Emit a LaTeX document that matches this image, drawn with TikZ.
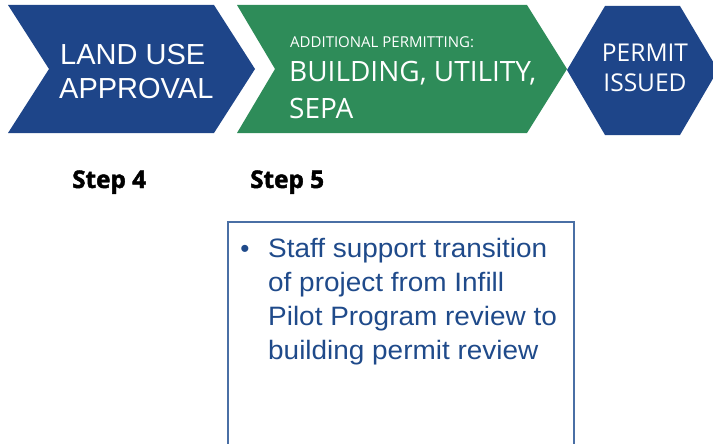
\documentclass[tikz,border=0pt]{standalone}
\usepackage{fontspec}
\setmainfont{Liberation Sans}
\newfontfamily\opensans{Open Sans}
\newfontfamily\stepfont{Open Sans}[BoldFeatures={FakeBold=1.8}]
\definecolor{chevblue}{HTML}{1E4589}
\definecolor{chevgreen}{HTML}{2E8C59}
\definecolor{boxline}{HTML}{4A6FA5}
\definecolor{boxtext}{HTML}{1F4A8A}
\begin{document}
\begin{tikzpicture}[x=1pt,y=-1pt,
  whitetxt/.style={text=white,inner sep=0pt},
  steplabel/.style={inner sep=0pt,anchor=base west,font=\stepfont\bfseries\fontsize{24.3}{28}\selectfont},
  bodytxt/.style={inner sep=0pt,anchor=base west,text=boxtext,xscale=1.05,transform shape,font=\fontsize{26.6}{30}\selectfont}]
\useasboundingbox (0,0) rectangle (713,444);
\clip (0,0) rectangle (713,444);
% shapes
\fill[chevblue] (8,5) -- (214,5) -- (255,69) -- (214,133) -- (8,133) -- (49,69) -- cycle;
\fill[chevgreen] (237,5) -- (527,5) -- (567,69) -- (527,133) -- (237,133) -- (275,69) -- cycle;
\fill[chevblue] (567,70) -- (605,6) -- (680,6) -- (718,70) -- (680,135) -- (605,135) -- cycle;
% texts in shapes
\node[whitetxt,anchor=base west,font=\fontsize{29}{34}\selectfont] (lu1) at (60,65) {LAND USE};
\node[whitetxt,anchor=base west,font=\fontsize{29}{34}\selectfont] (lu2) at (59,99) {APPROVAL};
\node[whitetxt,anchor=base west,font=\opensans\fontsize{15}{18}\selectfont] (ap) at (290,48) {ADDITIONAL PERMITTING:};
\node[whitetxt,anchor=base west,font=\opensans\fontsize{28}{32}\selectfont] (bu) at (289,82) {BUILDING, UTILITY,};
\node[whitetxt,anchor=base west,font=\opensans\fontsize{28}{32}\selectfont] (se) at (289,118) {SEPA};
\node[whitetxt,anchor=base,font=\opensans\fontsize{24.5}{30}\selectfont] (pi1) at (645,62) {PERMIT};
\node[whitetxt,anchor=base,font=\opensans\fontsize{24.5}{30}\selectfont] (pi2) at (645,92) {ISSUED};
% steps
\node[steplabel] (s4) at (72,188) {Step 4};
\node[steplabel] (s5) at (250,188) {Step 5};
% box
\draw[boxline,line width=2.4pt] (228,460) -- (228,222) -- (574,222) -- (574,460);
\node[text=boxtext,inner sep=0pt,anchor=base,font=\fontsize{26}{30}\selectfont] (bul) at (245,257) {•};
\node[bodytxt] (t1) at (268,257) {Staff support transition};
\node[bodytxt] (t2) at (268,291) {of project from Infill};
\node[bodytxt] (t3) at (268,325) {Pilot Program review to};
\node[bodytxt] (t4) at (268,359) {building permit review};
\end{tikzpicture}
\end{document}
